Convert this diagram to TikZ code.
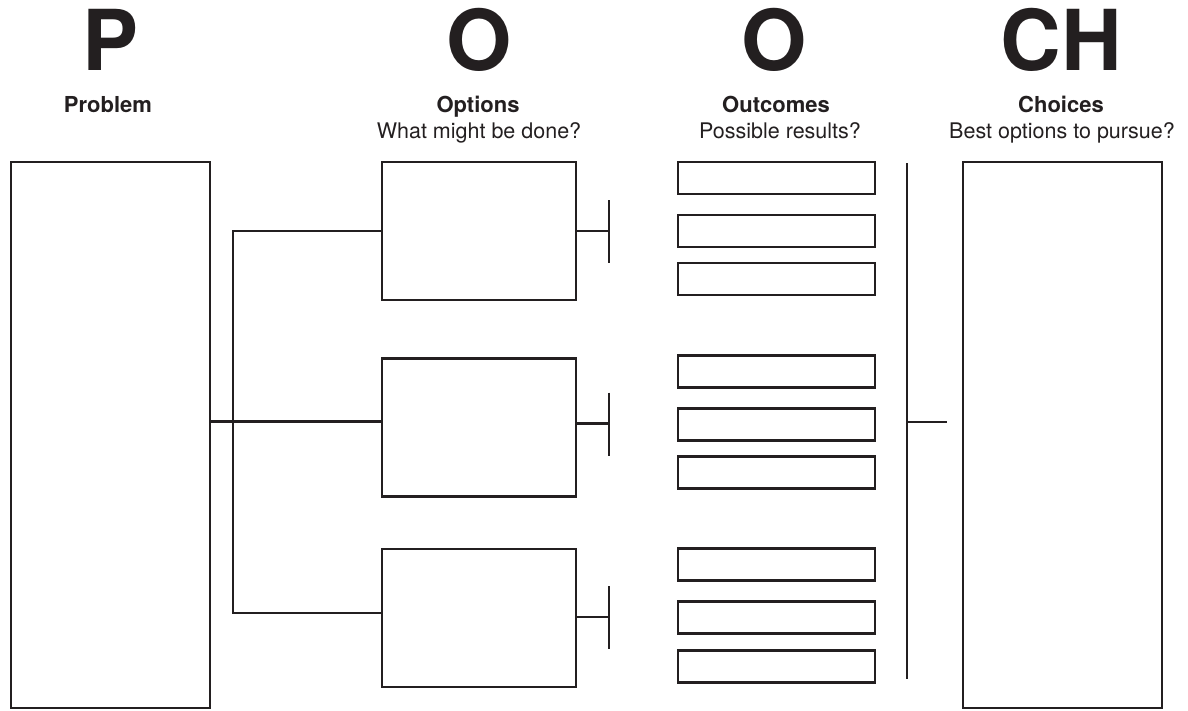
\documentclass[tikz,border=0pt]{standalone}
\usepackage{fontspec}
\setmainfont{TeX Gyre Heros}
\definecolor{ink}{HTML}{231F20}
\tikzset{
  box/.style={draw=ink, line width=2.4pt, inner sep=0pt, outer sep=0pt},
  bigbox/.style={box, minimum width=199pt, minimum height=546pt},
  optbox/.style={box, minimum width=194pt, minimum height=138pt},
  outbox/.style={box, minimum width=197pt, minimum height=32pt},
  conn/.style={draw=ink, line width=2.4pt},
  letter/.style={text=ink, font=\bfseries\fontsize{84}{84}\selectfont, anchor=base, inner sep=0pt},
  head/.style={text=ink, font=\bfseries\fontsize{22}{24}\selectfont, anchor=base, inner sep=0pt},
  sub/.style={text=ink, font=\fontsize{21.5}{24}\selectfont, anchor=base, inner sep=0pt}
}
\begin{document}
\begin{tikzpicture}[x=1pt, y=-1pt]
\useasboundingbox (0,0) rectangle (1188,710);
% titles
\node[letter] (lP) at (111,70) {P};
\node[letter] (lO1) at (479,70) {O};
\node[letter] (lO2) at (774,70) {O};
\node[letter] (lCH) at (1061,70) {CH};
\node[head] (hP) at (108,112) {Problem};
\node[head] (hO1) at (478,112) {Options};
\node[sub] (sO1) at (479,138) {What might be done?};
\node[head] (hO2) at (776,112) {Outcomes};
\node[sub] (sO2) at (780,138) {Possible results?};
\node[head] (hCH) at (1061,112) {Choices};
\node[sub] (sCH) at (1062,138) {Best options to pursue?};
% big boxes
\node[bigbox] (p) at (110.5,435) {};
\node[bigbox] (ch) at (1062.5,435) {};
% option boxes
\node[optbox] (o1) at (479,231) {};
\node[optbox] (o2) at (479,427.5) {};
\node[optbox] (o3) at (479,618) {};
% outcome boxes
\node[outbox] (a1) at (776.5,178) {};
\node[outbox] (a2) at (776.5,231) {};
\node[outbox] (a3) at (776.5,279) {};
\node[outbox] (b1) at (776.5,371.5) {};
\node[outbox] (b2) at (776.5,424.5) {};
\node[outbox] (b3) at (776.5,472.5) {};
\node[outbox] (c1) at (776.5,564.5) {};
\node[outbox] (c2) at (776.5,617.5) {};
\node[outbox] (c3) at (776.5,666.5) {};
% tree from problem to options
\coordinate (tx) at (233,0);
\coordinate (o2w) at ([yshift=6pt]o2.west);
\coordinate (o3w) at ([yshift=5pt]o3.west);
\draw[conn] (o1.west) -| (tx |- o3w) -- (o3w);
\draw[conn] (p.east |- o2w) -- (o2w);
% T bars after options
\coordinate (t1) at ([xshift=33pt]o1.east);
\coordinate (t2) at ([xshift=33pt,yshift=4pt]o2.east);
\coordinate (t3) at ([xshift=33pt,yshift=1pt]o3.east);
\draw[conn] (o1.east) -- (t1);
\draw[conn] (o2.east |- t2) -- (t2);
\draw[conn] (o3.east |- t3) -- (t3);
\draw[conn] ([yshift=31pt]t1) -- ([yshift=-32pt]t1);
\draw[conn] ([yshift=31pt]t2) -- ([yshift=-32pt]t2);
\draw[conn] ([yshift=31pt]t3) -- ([yshift=-32pt]t3);
% bracket before choices
\coordinate (vtop) at (907,163);
\coordinate (vbot) at (907,679);
\coordinate (vmid) at (907,422);
\coordinate (vend) at (947,422);
\draw[conn] (vtop) -- (vbot);
\draw[conn] (vmid) -- (vend);
\end{tikzpicture}
\end{document}
